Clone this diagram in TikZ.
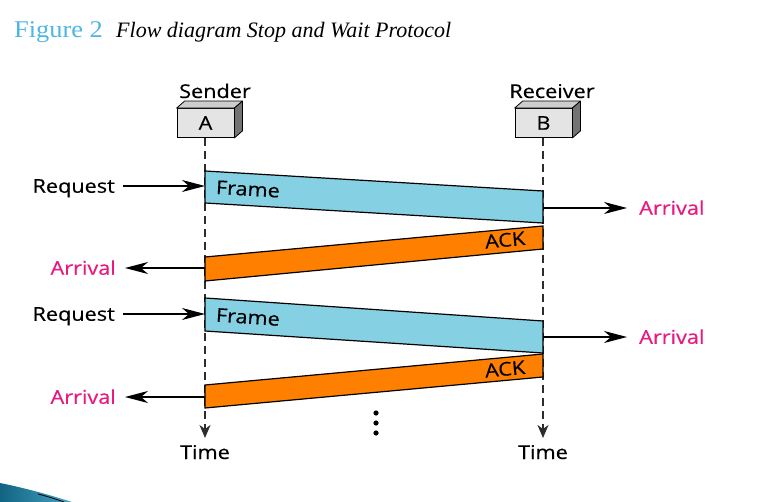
\documentclass[tikz,border=0pt]{standalone}
\usepackage{fontspec}
\setmainfont{Liberation Serif}
\newfontfamily\lblfont[FakeBold=0.4]{Open Sans}
\usetikzlibrary{arrows.meta}
\definecolor{framecol}{RGB}{134,208,227}
\definecolor{ackcol}{RGB}{255,128,0}
\definecolor{arrcol}{RGB}{232,25,127}
\definecolor{figcol}{RGB}{79,182,226}
\definecolor{frontgray}{RGB}{228,228,228}
\definecolor{topgray}{RGB}{205,205,205}
\definecolor{sidegray}{RGB}{115,115,115}
\definecolor{lifecol}{RGB}{45,45,45}
\definecolor{swoosha}{RGB}{16,100,130}
\definecolor{swooshb}{RGB}{70,165,195}
\newcommand\sx[1]{\scalebox{1.14}[1]{#1}}
\begin{document}
\begin{tikzpicture}[x=1pt,y=-1pt,
  lbl/.style={font=\lblfont\fontsize{19}{22}\selectfont, inner sep=0pt, text height=13.5pt, text depth=0pt},
  arrlbl/.style={lbl, text=arrcol},
  boxnode/.style={lbl, draw=black, line width=0.8pt, fill=frontgray, minimum width=57pt, minimum height=29pt},
  tarrow/.style={draw=lifecol, line width=1.4pt, dash pattern=on 8pt off 5pt, -{Stealth[length=13pt,width=11pt,inset=4pt]}},
  harrow/.style={draw=black, line width=1.3pt, -{Stealth[length=23pt,width=12pt,inset=7pt]}},
  framebox/.style={fill=framecol, draw=black, line width=1.2pt, line join=miter},
  ackbox/.style={fill=ackcol, draw=black, line width=1.2pt, line join=miter},
]
\useasboundingbox (0,0) rectangle (765,502);
% slide decoration
\shade[left color=swoosha, right color=swooshb] (0,483) .. controls (25,488) and (50,495) .. (72,502) -- (0,502) -- cycle;
\draw[black, line width=0.8pt] (38,494) .. controls (50,497) and (58,500) .. (64,502);
% title
\node[anchor=base west, inner sep=0pt, text=figcol, font=\fontsize{24}{28}\selectfont] (fig) at (14,38) {\scalebox{1.1}[1]{Figure 2}};
\node[anchor=base west, inner sep=0pt, font=\fontsize{22}{26}\selectfont\itshape] (cap) at (116,38) {Flow diagram Stop and Wait Protocol};
% stations
\node[anchor=base, lbl] (snd) at (215,98) {\sx{Sender}};
\node[anchor=base, lbl] (rcv) at (552,98) {\sx{Receiver}};
\node[boxnode] (A) at (205.5,123) {\sx{A}};
\node[boxnode] (B) at (543.5,123) {\sx{B}};
\filldraw[fill=topgray, draw=black, line width=0.8pt, line join=round] (A.north west) -- ++(8,-7) -- ([shift={(8,-7)}]A.north east) -- (A.north east) -- cycle;
\filldraw[fill=sidegray, draw=black, line width=0.8pt, line join=round] (A.north east) -- ++(8,-7) -- ([shift={(8,-7)}]A.south east) -- (A.south east) -- cycle;
\filldraw[fill=topgray, draw=black, line width=0.8pt, line join=round] (B.north west) -- ++(8,-7) -- ([shift={(8,-7)}]B.north east) -- (B.north east) -- cycle;
\filldraw[fill=sidegray, draw=black, line width=0.8pt, line join=round] (B.north east) -- ++(8,-7) -- ([shift={(8,-7)}]B.south east) -- (B.south east) -- cycle;
% lifelines with time arrows
\coordinate (Aend) at (205,438);
\coordinate (Bend) at (543,438);
\draw[tarrow] (A.south -| Aend) -- (Aend);
\draw[tarrow] (B.south -| Bend) -- (Bend);
\node[anchor=base, lbl] (tA) at (205,459) {\sx{Time}};
\node[anchor=base, lbl] (tB) at (543,459) {\sx{Time}};
% frames and acks, round 1
\coordinate (f1a) at (205,171); \coordinate (f1b) at (543,191);
\coordinate (f1c) at (543,223); \coordinate (f1d) at (205,203);
\filldraw[framebox] (f1a) -- (f1b) -- (f1c) -- (f1d) -- cycle;
\coordinate (k1a) at (543,226); \coordinate (k1b) at (543,249);
\coordinate (k1c) at (205,281); \coordinate (k1d) at (205,257);
\filldraw[ackbox] (k1a) -- (k1b) -- (k1c) -- (k1d) -- cycle;
\node[lbl, rotate=-3.3] (fr1) at (248,189) {\sx{Frame}};
\node[lbl, rotate=5.4] (ak1) at (505,240) {\sx{ACK}};
% frames and acks, round 2
\coordinate (f2a) at (205,298); \coordinate (f2b) at (543,321);
\coordinate (f2c) at (543,353); \coordinate (f2d) at (205,331);
\filldraw[framebox] (f2a) -- (f2b) -- (f2c) -- (f2d) -- cycle;
\coordinate (k2a) at (543,354); \coordinate (k2b) at (543,377);
\coordinate (k2c) at (205,408); \coordinate (k2d) at (205,385);
\filldraw[ackbox] (k2a) -- (k2b) -- (k2c) -- (k2d) -- cycle;
\node[lbl, rotate=-3.9] (fr2) at (248,317) {\sx{Frame}};
\node[lbl, rotate=5.4] (ak2) at (505,369) {\sx{ACK}};
% requests and arrivals
\node[lbl, anchor=east] (rq1) at (115,186) {\sx{Request}};
\coordinate (rq1e) at (205,186);
\draw[harrow] ([xshift=8pt]rq1.east) -- (rq1e);
\coordinate (ar1s) at (543,208);
\node[arrlbl, anchor=west] (ar1) at (639,208) {\sx{Arrival}};
\draw[harrow] (ar1s) -- ([xshift=-12pt]ar1.west);
\coordinate (al1s) at (205,268);
\node[arrlbl, anchor=east] (al1) at (116,268) {\sx{Arrival}};
\draw[harrow] (al1s) -- ([xshift=9pt]al1.east);
\node[lbl, anchor=east] (rq2) at (115,314) {\sx{Request}};
\coordinate (rq2e) at (205,314);
\draw[harrow] ([xshift=8pt]rq2.east) -- (rq2e);
\coordinate (ar2s) at (543,337);
\node[arrlbl, anchor=west] (ar2) at (639,337) {\sx{Arrival}};
\draw[harrow] (ar2s) -- ([xshift=-12pt]ar2.west);
\coordinate (al2s) at (205,397);
\node[arrlbl, anchor=east] (al2) at (116,397) {\sx{Arrival}};
\draw[harrow] (al2s) -- ([xshift=9pt]al2.east);
% ellipsis dots
\fill (376,413) circle (2.6);
\fill (376,423) circle (2.6);
\fill (376,433) circle (2.6);
\end{tikzpicture}
\end{document}
